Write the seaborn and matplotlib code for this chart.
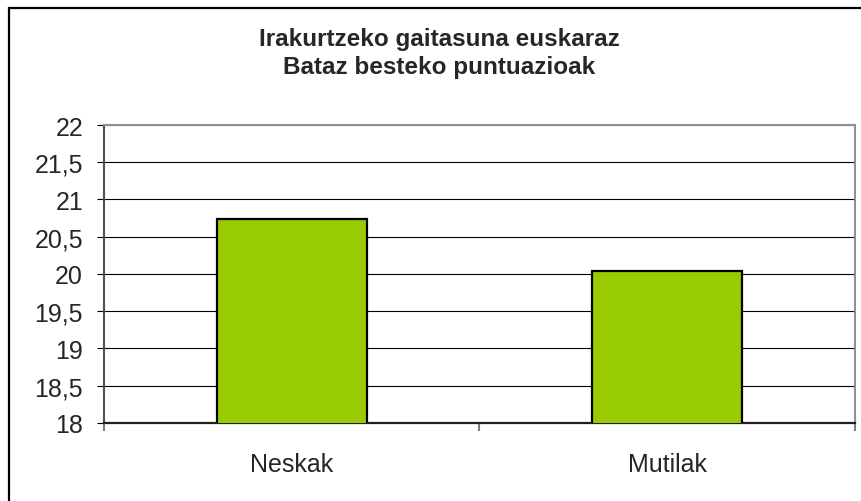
"""
Irakurtzeko gaitasuna euskaraz - bataz besteko puntuazioak
"""

import matplotlib
matplotlib.use("Agg")

import matplotlib.pyplot as plt
import matplotlib.patches as patches
from matplotlib.ticker import FuncFormatter, FixedLocator
import pandas as pd
import seaborn as sns


categories = ["Neskak", "Mutilak"]
scores = [20.74, 20.04]
y_ticks = [18, 18.5, 19, 19.5, 20, 20.5, 21, 21.5, 22]

title_lines = ["Irakurtzeko gaitasuna euskaraz", "Bataz besteko puntuazioak"]


def comma_format(value, _pos):
    """Format tick values with a decimal comma."""
    text = f"{value:g}"
    return text.replace(".", ",")


sns.set_style("white")
plt.rcParams["font.family"] = ["Liberation Sans", "DejaVu Sans"]

df = pd.DataFrame({"Group": categories, "Score": scores})

fig = plt.figure(figsize=(8.62, 5.02), dpi=100)
ax = fig.add_axes([0.1206, 0.1554, 0.8713, 0.5936])

sns.barplot(
    data=df,
    x="Group",
    y="Score",
    color="#99CC00",
    edgecolor="black",
    linewidth=1.6,
    width=0.4,
    saturation=1,
    ax=ax,
    zorder=3
)

ax.set_ylim(18, 22)
ax.set_xlim(-0.5, 1.5)
ax.set_yticks(y_ticks)
ax.yaxis.set_major_formatter(FuncFormatter(comma_format))

# horizontal gridlines
ax.yaxis.grid(True, color="black", linewidth=0.8, zorder=0)
ax.set_axisbelow(True)

ax.set_xlabel("")
ax.set_ylabel("")

# category boundary ticks on the x axis
ax.xaxis.set_minor_locator(FixedLocator([-0.5, 0.5, 1.5]))
ax.tick_params(axis="x", which="major", length=0, pad=21, labelsize=18)
ax.tick_params(axis="x", which="minor", length=6, width=1.5,
               color="#808080", direction="out", bottom=True)
ax.tick_params(axis="y", which="major", length=5, width=0.8,
               color="black", direction="out", left=True,
               pad=10, labelsize=18)

for side in ["top", "right"]:
    ax.spines[side].set_visible(True)
    ax.spines[side].set_color("#909090")
    ax.spines[side].set_linewidth(1.5)

ax.spines["left"].set_color("#505050")
ax.spines["left"].set_linewidth(1.5)
ax.spines["bottom"].set_color("#202020")
ax.spines["bottom"].set_linewidth(1.6)

fig.text(
    0.51,
    0.893,
    "\n".join(title_lines),
    ha="center",
    va="center",
    fontsize=17.5,
    fontweight="bold",
    linespacing=1.25
)

# outer chart frame (right and bottom edges fall outside the image)
frame = patches.Rectangle(
    (9.5 / 862, -0.1),
    1.2,
    1.0 - 8.5 / 502 + 0.1,
    transform=fig.transFigure,
    fill=False,
    edgecolor="black",
    linewidth=1.6,
    clip_on=False
)
fig.patches.append(frame)

fig.savefig("out.png", dpi=100)
